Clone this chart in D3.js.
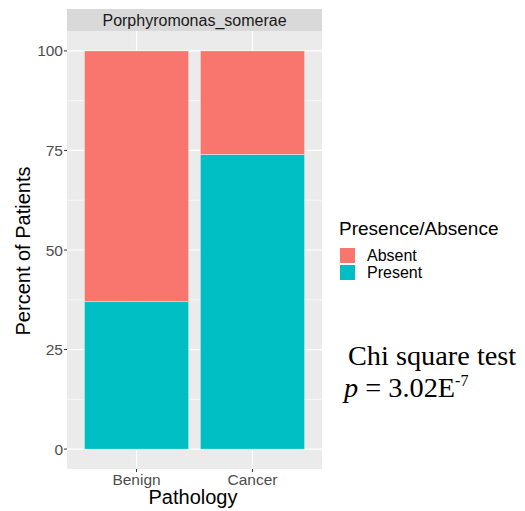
<!DOCTYPE html>
<html>
<head>
<meta charset="utf-8">
<script src="https://cdn.jsdelivr.net/npm/d3@7"></script>
<style>
  body { margin: 0; background: #fff; }
  svg { display: block; }
</style>
</head>
<body>
<svg id="chart" width="525" height="511"></svg>
<script>
// Data
const categories = ["Benign", "Cancer"];
const statuses = ["Absent", "Present"];
const presentPct = [37, 74];
const absentPct = [63, 26];
const yTicks = [0, 25, 50, 75, 100];
const facetTitle = "Porphyromonas_somerae";
const statusColors = ["#F8766D", "#00BFC4"];

const svg = d3.select("#chart");
const sans = "Liberation Sans, Arial, sans-serif";
const panel = { left: 67, right: 322, top: 31, bottom: 469 };
const stripTop = 9;

// Scales (ggplot-style expansion)
const y = d3.scaleLinear().domain([-5, 105]).range([panel.bottom, panel.top]);
const xc = d3.scaleLinear().domain([0.4, 2.6]).range([panel.left, panel.right]);
const barW = 0.9;
const color = d3.scaleOrdinal().domain(statuses).range(statusColors);

// Strip
svg.append("rect").attr("x", panel.left).attr("y", stripTop)
  .attr("width", panel.right - panel.left).attr("height", panel.top - stripTop)
  .attr("fill", "#D9D9D9");
svg.append("text").attr("x", (panel.left + panel.right) / 2).attr("y", (stripTop + panel.top) / 2 + 5.5)
  .attr("text-anchor", "middle").attr("font-family", sans)
  .attr("font-size", 16).attr("fill", "#1A1A1A").text(facetTitle);

// Panel background
svg.append("rect").attr("x", panel.left).attr("y", panel.top)
  .attr("width", panel.right - panel.left).attr("height", panel.bottom - panel.top)
  .attr("fill", "#EBEBEB");

// Grid lines
const minorY = [12.5, 37.5, 62.5, 87.5];
svg.append("g").selectAll("line").data(minorY).join("line")
  .attr("x1", panel.left).attr("x2", panel.right)
  .attr("y1", d => y(d)).attr("y2", d => y(d))
  .attr("stroke", "#fff").attr("stroke-width", 0.6);
svg.append("g").selectAll("line").data(yTicks).join("line")
  .attr("x1", panel.left).attr("x2", panel.right)
  .attr("y1", d => y(d)).attr("y2", d => y(d))
  .attr("stroke", "#fff").attr("stroke-width", 1.2);
svg.append("g").selectAll("line").data(categories).join("line")
  .attr("x1", (d, i) => xc(i + 1)).attr("x2", (d, i) => xc(i + 1))
  .attr("y1", panel.top).attr("y2", panel.bottom)
  .attr("stroke", "#fff").attr("stroke-width", 1.2);

// Stacked bars
const rows = categories.map((c, i) => ({ cat: c, idx: i, Present: presentPct[i], Absent: absentPct[i] }));
const stack = d3.stack().keys(["Present", "Absent"]);
const series = stack(rows);
svg.append("g").selectAll("g").data(series).join("g")
  .attr("fill", d => color(d.key))
  .selectAll("rect").data(d => d).join("rect")
  .attr("x", d => xc(d.data.idx + 1 - barW / 2))
  .attr("width", d => xc(d.data.idx + 1 + barW / 2) - xc(d.data.idx + 1 - barW / 2))
  .attr("y", d => y(d[1]))
  .attr("height", d => y(d[0]) - y(d[1]))
  .attr("stroke", "#fff").attr("stroke-width", 0.4);

// Y axis ticks and labels
const yAxis = svg.append("g");
yAxis.selectAll("line").data(yTicks).join("line")
  .attr("x1", panel.left - 3).attr("x2", panel.left)
  .attr("y1", d => y(d)).attr("y2", d => y(d))
  .attr("stroke", "#333").attr("stroke-width", 1);
yAxis.selectAll("text").data(yTicks).join("text")
  .attr("x", panel.left - 4).attr("y", d => y(d) + 5.5)
  .attr("text-anchor", "end").attr("font-family", sans)
  .attr("font-size", 15.5).attr("fill", "#4D4D4D").text(d => d);

// X axis ticks and labels
const xAxis = svg.append("g");
xAxis.selectAll("line").data(categories).join("line")
  .attr("x1", (d, i) => xc(i + 1)).attr("x2", (d, i) => xc(i + 1))
  .attr("y1", panel.bottom).attr("y2", panel.bottom + 3)
  .attr("stroke", "#333").attr("stroke-width", 1);
xAxis.selectAll("text").data(categories).join("text")
  .attr("x", (d, i) => xc(i + 1)).attr("y", 485)
  .attr("text-anchor", "middle").attr("font-family", sans)
  .attr("font-size", 15.5).attr("fill", "#4D4D4D").text(d => d);

// Axis titles
svg.append("text").attr("x", 193).attr("y", 504)
  .attr("text-anchor", "middle").attr("font-family", sans)
  .attr("font-size", 20).attr("fill", "#000").text("Pathology");
svg.append("text").attr("transform", "translate(30,251) rotate(-90)")
  .attr("text-anchor", "middle").attr("font-family", sans)
  .attr("font-size", 20).attr("fill", "#000").text("Percent of Patients");

// Legend
const lg = svg.append("g").attr("transform", "translate(339,0)");
lg.append("text").attr("x", 0).attr("y", 235)
  .attr("font-family", sans).attr("font-size", 19)
  .attr("fill", "#000").text("Presence/Absence");
lg.selectAll("rect").data(statuses).join("rect")
  .attr("x", 1).attr("y", (d, i) => 248 + i * 17)
  .attr("width", 15).attr("height", 15)
  .attr("fill", d => color(d));
lg.selectAll("text.key").data(statuses).join("text").attr("class", "key")
  .attr("x", 28).attr("y", (d, i) => 261 + i * 17)
  .attr("font-family", sans).attr("font-size", 16)
  .attr("fill", "#000").text(d => d);

// Test annotation
const ann = svg.append("g").attr("font-family", "Liberation Serif, Times New Roman, serif").attr("fill", "#000");
ann.append("text").attr("x", 348).attr("y", 365).attr("font-size", 28.3).text("Chi square test");
const pLine = ann.append("text").attr("x", 344).attr("y", 397).attr("font-size", 28.3);
pLine.append("tspan").attr("font-style", "italic").text("p");
pLine.append("tspan").text(" = 3.02E");
pLine.append("tspan").attr("font-size", 16).attr("dy", -11).text("-7");
</script>
</body>
</html>
